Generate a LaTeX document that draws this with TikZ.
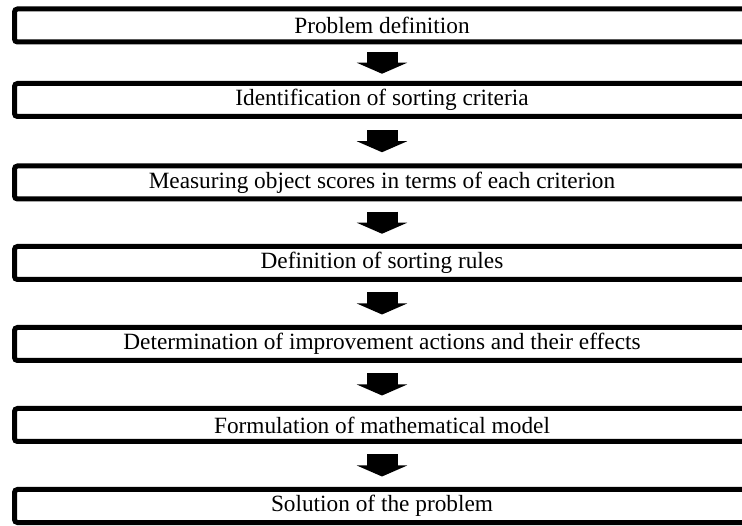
\documentclass[tikz,border=0pt]{standalone}
\usepackage{fontspec}
\setmainfont{Liberation Serif}
\usetikzlibrary{arrows.meta,calc}
\begin{document}
\begin{tikzpicture}[x=1pt,y=-1pt,
  stepbox/.style={draw=black, line width=5pt, rounded corners=3pt, rectangle,
    minimum width=735pt, minimum height=33pt, inner sep=0pt, fill=white,
    font=\fontsize{23.3}{25}\selectfont},
  flowarrow/.style={line width=31pt, black,
    -{Triangle[width=50pt,length=11pt]}}]
\useasboundingbox (0,0) rectangle (742,526);
\clip (0,0) rectangle (742,526);
\fill[white] (0,0) rectangle (742,526);
\node[stepbox] (s1) at (382,25.5) {Problem definition};
\node[stepbox] (s2) at (382,100) {Identification of sorting criteria};
\node[stepbox] (s3) at (382,182.5) {Measuring object scores in terms of each criterion};
\node[stepbox] (s4) at (382,263) {Definition of sorting rules};
\node[stepbox] (s5) at (382,344) {Determination of improvement actions and their effects};
\node[stepbox] (s6) at (382,425) {Formulation of mathematical model};
\node[stepbox] (s7) at (382,506) {Solution of the problem};
% block arrows centred in the gap between consecutive steps
\foreach \a/\b in {s1/s2,s2/s3,s3/s4,s4/s5,s5/s6,s6/s7}
  \draw[flowarrow] ($(\a.south)!0.5!(\b.north)+(0,-11)$) -- ($(\a.south)!0.5!(\b.north)+(0,11)$);
\end{tikzpicture}
\end{document}
